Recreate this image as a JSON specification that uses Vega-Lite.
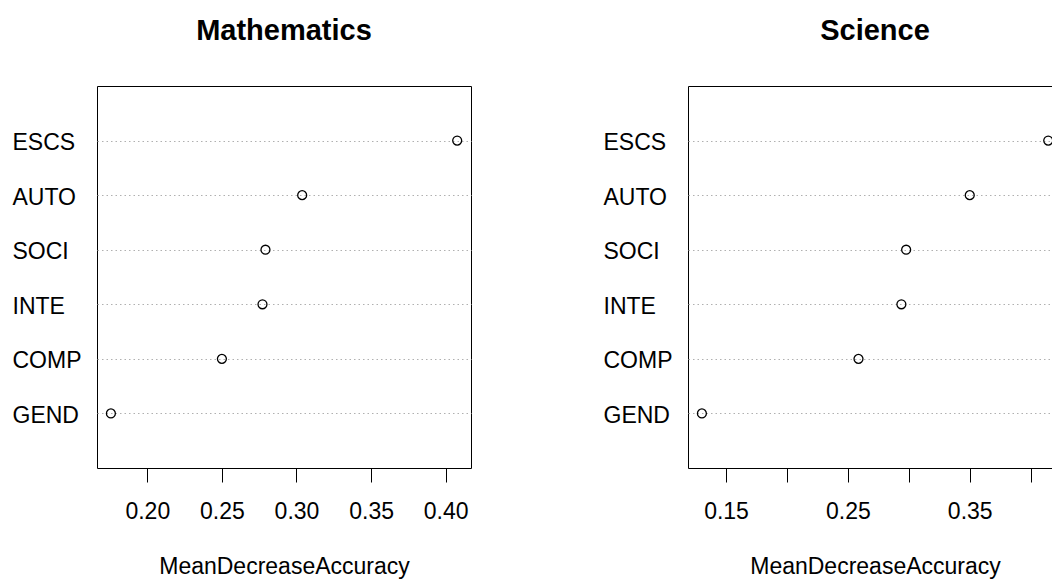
{
  "$schema": "https://vega.github.io/schema/vega-lite/v6.json",
  "background": "white",
  "padding": {"left": 11, "top": 16, "right": 0, "bottom": 0},
  "spacing": 130,
  "config": {
    "font": "Liberation Sans",
    "view": {"stroke": "black", "strokeWidth": 1},
    "title": {"font": "Liberation Sans", "fontSize": 29, "fontWeight": "bold", "color": "black", "baseline": "alphabetic", "offset": 40, "anchor": "middle"},
    "axis": {"labelFont": "Liberation Sans", "titleFont": "Liberation Sans", "labelColor": "black", "titleColor": "black", "labelFontSize": 23, "titleFontSize": 23, "titleFontWeight": "normal", "domain": false}
  },
  "datasets": {
    "imp": [
      {"subject": "Mathematics", "var": "ESCS", "value": 0.4077},
      {"subject": "Mathematics", "var": "AUTO", "value": 0.3038},
      {"subject": "Mathematics", "var": "SOCI", "value": 0.2792},
      {"subject": "Mathematics", "var": "INTE", "value": 0.2772},
      {"subject": "Mathematics", "var": "COMP", "value": 0.2500},
      {"subject": "Mathematics", "var": "GEND", "value": 0.1756},
      {"subject": "Science", "var": "ESCS", "value": 0.4144},
      {"subject": "Science", "var": "AUTO", "value": 0.3500},
      {"subject": "Science", "var": "SOCI", "value": 0.2978},
      {"subject": "Science", "var": "INTE", "value": 0.2939},
      {"subject": "Science", "var": "COMP", "value": 0.2587},
      {"subject": "Science", "var": "GEND", "value": 0.1302}
    ]
  },
  "hconcat": [
    {
      "title": "Mathematics",
      "width": 374,
      "height": 382,
      "data": {"name": "imp"},
      "transform": [{"filter": "datum.subject === 'Mathematics'"}],
      "mark": {"type": "point", "filled": false, "color": "black", "size": 80, "strokeWidth": 1.3, "opacity": 1},
      "encoding": {
        "x": {"field": "value", "type": "quantitative", "title": "MeanDecreaseAccuracy",
              "scale": {"domain": [0.16629, 0.41696], "nice": false, "zero": false},
              "axis": {"values": [0.2, 0.25, 0.3, 0.35, 0.4], "format": ".2f", "grid": false, "tickSize": 14, "tickColor": "black", "labelPadding": 18, "titleY": 105, "titleBaseline": "alphabetic", "labelFlush": false, "labelOverlap": false}},
        "y": {"field": "var", "type": "nominal", "title": null,
              "sort": ["ESCS", "AUTO", "SOCI", "INTE", "COMP", "GEND"],
              "scale": {"type": "point", "padding": 1},
              "axis": {"tickSize": 0, "labelAlign": "left", "labelPadding": 85, "labelOffset": 2, "grid": true, "gridColor": "#b0b0b0", "gridDash": [1.5, 3], "gridWidth": 1}}
      }
    },
    {
      "title": "Science",
      "width": 374,
      "height": 382,
      "data": {"name": "imp"},
      "transform": [{"filter": "datum.subject === 'Science'"}],
      "mark": {"type": "point", "filled": false, "color": "black", "size": 80, "strokeWidth": 1.3, "opacity": 1},
      "encoding": {
        "x": {"field": "value", "type": "quantitative", "title": "MeanDecreaseAccuracy",
              "scale": {"domain": [0.1188, 0.4257], "nice": false, "zero": false},
              "axis": {"values": [0.15, 0.2, 0.25, 0.3, 0.35, 0.4], "labelExpr": "indexof(['0.15','0.25','0.35'], format(datum.value, '.2f')) >= 0 ? format(datum.value, '.2f') : ''", "grid": false, "tickSize": 14, "tickColor": "black", "labelPadding": 18, "titleY": 105, "titleBaseline": "alphabetic", "labelFlush": false, "labelOverlap": false}},
        "y": {"field": "var", "type": "nominal", "title": null,
              "sort": ["ESCS", "AUTO", "SOCI", "INTE", "COMP", "GEND"],
              "scale": {"type": "point", "padding": 1},
              "axis": {"tickSize": 0, "labelAlign": "left", "labelPadding": 85, "labelOffset": 2, "grid": true, "gridColor": "#b0b0b0", "gridDash": [1.5, 3], "gridWidth": 1}}
      }
    }
  ]
}
